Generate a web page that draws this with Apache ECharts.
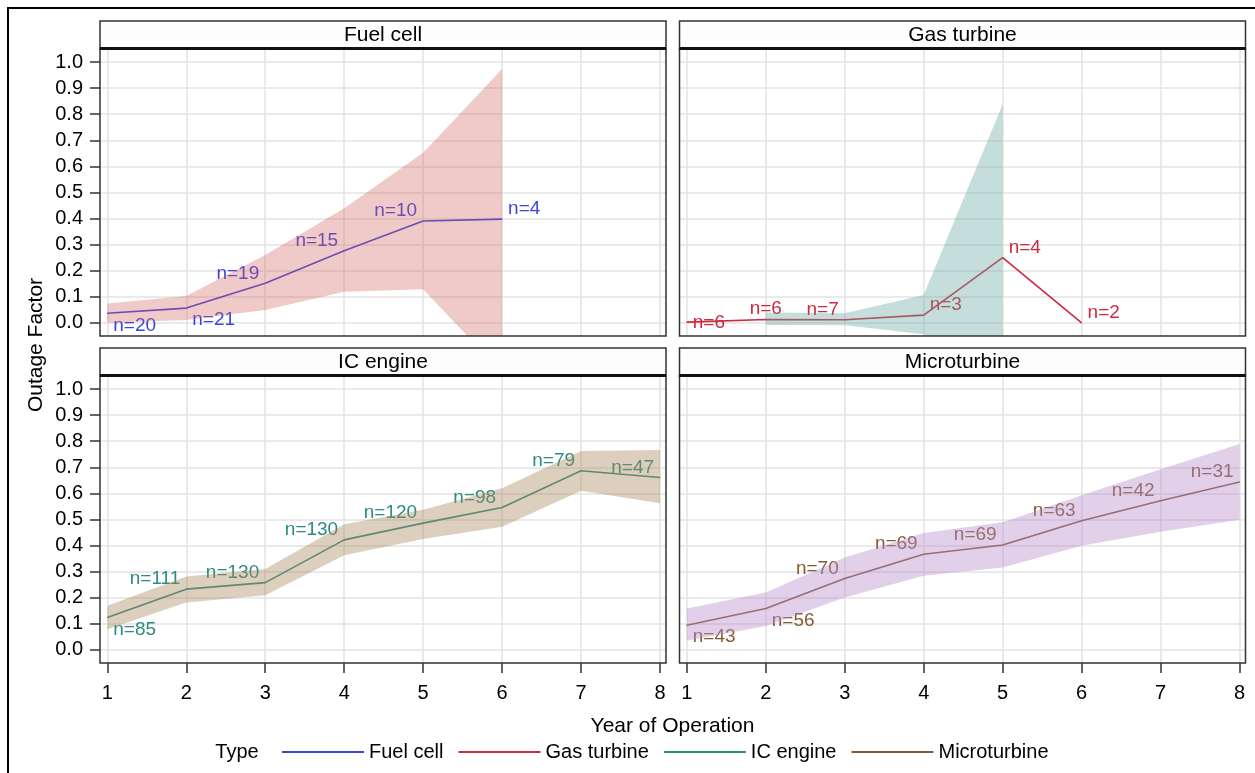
<!DOCTYPE html>
<html>
<head>
<meta charset="utf-8">
<script src="https://cdn.jsdelivr.net/npm/echarts@6/dist/echarts.min.js"></script>
<style>
  html, body { margin: 0; padding: 0; background: #fff; }
  #chart { width: 1255px; height: 773px; }
</style>
</head>
<body>
<div id="chart"></div>
<script>
// ---- data ----
const years = [1, 2, 3, 4, 5, 6, 7, 8];
const yTicks = [0, 0.1, 0.2, 0.3, 0.4, 0.5, 0.6, 0.7, 0.8, 0.9, 1.0];
const types = ['Fuel cell', 'Gas turbine', 'IC engine', 'Microturbine'];

// Fuel cell
const fuelYears = [1, 2, 3, 4, 5, 6];
const fuelFactor = [0.037, 0.057, 0.152, 0.277, 0.391, 0.398];
const fuelBandYears = [1, 2, 3, 4, 5, 6];
const fuelLower = [0.001, 0.011, 0.05, 0.12, 0.129, -0.19];
const fuelUpper = [0.075, 0.103, 0.26, 0.44, 0.652, 0.973];
const fuelN = [20, 21, 19, 15, 10, 4];

// Gas turbine
const gasYears = [1, 2, 3, 4, 5, 6];
const gasFactor = [0.003, 0.013, 0.012, 0.03, 0.25, 0.0];
const gasBandYears = [2, 3, 4, 5];
const gasLower = [-0.008, -0.009, -0.043, -0.4];
const gasUpper = [0.04, 0.037, 0.107, 0.838];
const gasN = [6, 6, 7, 3, 4, 2];

// IC engine
const icYears = [1, 2, 3, 4, 5, 6, 7, 8];
const icFactor = [0.124, 0.233, 0.258, 0.422, 0.486, 0.546, 0.687, 0.661];
const icBandYears = [1, 2, 3, 4, 5, 6, 7, 8];
const icLower = [0.079, 0.182, 0.21, 0.363, 0.425, 0.472, 0.61, 0.562];
const icUpper = [0.169, 0.282, 0.31, 0.482, 0.537, 0.62, 0.763, 0.766];
const icN = [85, 111, 130, 130, 120, 98, 79, 47];

// Microturbine
const microYears = [1, 2, 3, 4, 5, 6, 7, 8];
const microFactor = [0.095, 0.159, 0.274, 0.367, 0.402, 0.495, 0.572, 0.644];
const microBandYears = [1, 2, 3, 4, 5, 6, 7, 8];
const microLower = [0.035, 0.092, 0.201, 0.284, 0.316, 0.399, 0.453, 0.499];
const microUpper = [0.159, 0.22, 0.354, 0.448, 0.489, 0.593, 0.693, 0.789];
const microN = [43, 56, 70, 69, 69, 63, 42, 31];

// ---- styling ----
const FONT = "'Liberation Sans', Arial, sans-serif";
const lineColors = ['#3d45e0', '#cc2a40', '#2b8c80', '#845c34'];
const bandColors = ['#D05B5B', '#66A5A0', '#A9865B', '#B689CD'];
const bandOpacity = [0.33, 0.38, 0.4, 0.4];

// where each "n=" label sits relative to its point
const labelPlacement = {
  ul: { align: 'right', offset: [-6, -10] },
  ur: { align: 'left', offset: [6, -10] },
  lr: { align: 'left', offset: [6, 12] },
  u:  { align: 'center', offset: [0, -11] },
  r:  { align: 'left', offset: [6, 1] }
};
const placements = [
  ['lr', 'lr', 'ul', 'ul', 'ul', 'ur'],
  ['r', 'u', 'ul', 'ur', 'ur', 'ur'],
  ['lr', 'ul', 'ul', 'ul', 'ul', 'ul', 'ul', 'ul'],
  ['lr', 'lr', 'ul', 'ul', 'ul', 'ul', 'ul', 'ul']
];

const panels = [
  { years: fuelYears, factor: fuelFactor, bandYears: fuelBandYears, lower: fuelLower, upper: fuelUpper, n: fuelN },
  { years: gasYears, factor: gasFactor, bandYears: gasBandYears, lower: gasLower, upper: gasUpper, n: gasN },
  { years: icYears, factor: icFactor, bandYears: icBandYears, lower: icLower, upper: icUpper, n: icN },
  { years: microYears, factor: microFactor, bandYears: microBandYears, lower: microLower, upper: microUpper, n: microN }
];

// panel boxes (plot area) and header strip height
const boxes = [
  { left: 100, top: 49, width: 566, height: 287 },
  { left: 679.5, top: 49, width: 566, height: 287 },
  { left: 100, top: 376, width: 566, height: 287 },
  { left: 679.5, top: 376, width: 566, height: 287 }
];
const HEADER_H = 28;
const X_MIN = 0.9075, X_MAX = 8.0755;
const Y_MIN = -0.05, Y_MAX = 1.05;

const chart = echarts.init(document.getElementById('chart'), null, { renderer: 'canvas' });

const grid = boxes.map(b => ({ left: b.left, top: b.top, width: b.width, height: b.height, show: false, containLabel: false }));

const xAxis = boxes.map((b, i) => ({
  type: 'value', gridIndex: i, min: X_MIN, max: X_MAX, position: 'bottom',
  axisLine: { show: false, onZero: false },
  axisTick: { show: i >= 2, customValues: years, length: 10, lineStyle: { color: '#333', width: 1.5 } },
  axisLabel: { show: i >= 2, customValues: years, margin: 20, fontSize: 20, color: '#000', fontFamily: FONT },
  splitLine: { show: true, lineStyle: { color: '#e3e3e3', width: 1.5 } }
}));

const yAxis = boxes.map((b, i) => ({
  type: 'value', gridIndex: i, min: Y_MIN, max: Y_MAX, position: 'left',
  axisLine: { show: false, onZero: false },
  axisTick: { show: i % 2 === 0, customValues: yTicks, length: 10, lineStyle: { color: '#333', width: 1.5 } },
  axisLabel: { show: i % 2 === 0, customValues: yTicks, margin: 17, fontSize: 20, color: '#000', fontFamily: FONT,
               formatter: v => v.toFixed(1) },
  splitLine: { show: true, lineStyle: { color: '#e3e3e3', width: 1.5 } }
}));

const series = [];
panels.forEach((p, i) => {
  // confidence band: one polygon through the upper bounds and back along the lower bounds
  series.push({
    type: 'custom', name: types[i] + ' band', xAxisIndex: i, yAxisIndex: i,
    data: p.bandYears.map((x, k) => [x, p.lower[k], p.upper[k]]),
    encode: { x: 0, y: [1, 2] },
    renderItem: (params, api) => {
      if (params.dataIndex !== 0) return null;
      const upperPts = p.bandYears.map((x, k) => api.coord([x, p.upper[k]]));
      const lowerPts = p.bandYears.map((x, k) => api.coord([x, p.lower[k]])).reverse();
      const cs = params.coordSys;
      return {
        type: 'polygon',
        shape: { points: upperPts.concat(lowerPts) },
        style: { fill: bandColors[i], opacity: bandOpacity[i] },
        clipPath: { type: 'rect', shape: { x: cs.x, y: cs.y, width: cs.width, height: cs.height } }
      };
    },
    silent: true, z: 3, animation: false
  });
  // outage factor line with sample-size labels
  series.push({
    type: 'line', name: types[i], xAxisIndex: i, yAxisIndex: i,
    data: p.years.map((x, k) => {
      const pl = labelPlacement[placements[i][k]];
      return { value: [x, p.factor[k]], label: { align: pl.align, offset: pl.offset } };
    }),
    symbol: 'circle', symbolSize: 1, showSymbol: true, color: lineColors[i],
    lineStyle: { width: 1.6, color: lineColors[i] },
    label: {
      show: true, position: 'inside', verticalAlign: 'middle',
      fontSize: 19, fontFamily: FONT, color: lineColors[i],
      formatter: params => 'n=' + p.n[params.dataIndex]
    },
    z: 2, emphasis: { disabled: true }, animation: false
  });
});

const graphic = [
  // outer frame
  { type: 'rect', shape: { x: 8, y: 8, width: 1300, height: 800 }, style: { fill: 'none', stroke: '#000', lineWidth: 2 }, z: 100 },
  // y axis title
  { type: 'text', x: 36, y: 345, rotation: Math.PI / 2,
    style: { text: 'Outage Factor', fontSize: 21, fontFamily: FONT, fill: '#000', align: 'center', verticalAlign: 'middle' }, z: 100 },
  // x axis title
  { type: 'text', x: 672.5, y: 726,
    style: { text: 'Year of Operation', fontSize: 21, fontFamily: FONT, fill: '#000', align: 'center', verticalAlign: 'middle' }, z: 100 },
  // legend title
  { type: 'text', x: 237, y: 752,
    style: { text: 'Type', fontSize: 20, fontFamily: FONT, fill: '#000', align: 'center', verticalAlign: 'middle' }, z: 100 }
];
boxes.forEach((b, i) => {
  const hTop = b.top - HEADER_H;
  graphic.push({ type: 'rect', shape: { x: b.left, y: b.top, width: b.width, height: b.height },
    style: { fill: 'none', stroke: '#333', lineWidth: 1.5 }, z: 100 });
  graphic.push({ type: 'rect', shape: { x: b.left, y: hTop, width: b.width, height: HEADER_H },
    style: { fill: '#fdfdfd', stroke: '#333', lineWidth: 1.5 }, z: 100 });
  graphic.push({ type: 'line', shape: { x1: b.left, y1: b.top - 0.5, x2: b.left + b.width, y2: b.top - 0.5 },
    style: { stroke: '#111', lineWidth: 3 }, z: 101 });
  graphic.push({ type: 'text', x: b.left + b.width / 2, y: hTop + HEADER_H / 2,
    style: { text: types[i], fontSize: 21, fontFamily: FONT, fill: '#000', align: 'center', verticalAlign: 'middle' }, z: 102 });
});

chart.setOption({
  animation: false,
  backgroundColor: '#fff',
  grid, xAxis, yAxis, series, graphic,
  legend: {
    data: types.map(t => ({ name: t, icon: 'rect' })),
    left: 282, top: 742, padding: 0, itemWidth: 82, itemHeight: 2, itemGap: 15,
    selectedMode: false,
    textStyle: { fontSize: 20, fontFamily: FONT, color: '#000' }
  }
});
</script>
</body>
</html>
